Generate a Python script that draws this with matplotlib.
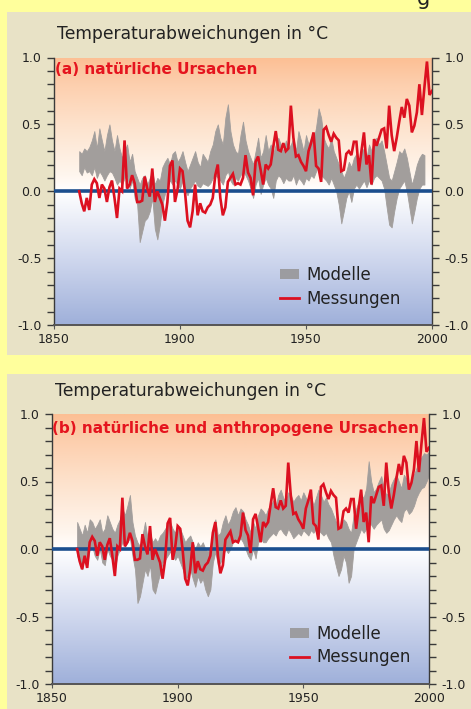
import numpy as np
import matplotlib
matplotlib.use("Agg")
import matplotlib.pyplot as plt
from matplotlib.colors import LinearSegmentedColormap
from matplotlib.patches import Rectangle, Patch
from matplotlib.lines import Line2D
from matplotlib.ticker import MultipleLocator, FixedLocator, FixedFormatter

years = list(range(1860, 2001))

# Messungen (observations), deg C anomaly
messungen = [
    0.00, -0.09, -0.15, -0.05, -0.14, 0.05, 0.09, 0.06, -0.05, 0.05,   # 1860-69
    0.02, -0.08, 0.03, 0.08, -0.05, -0.20, 0.02, 0.00, 0.38, 0.02,     # 1870-79
    0.05, 0.12, 0.06, -0.08, -0.08, -0.07, 0.11, 0.02, -0.04, 0.17,    # 1880-89
    -0.08, 0.00, -0.05, -0.10, -0.22, -0.08, 0.19, 0.23, -0.08, 0.01,  # 1890-99
    0.17, 0.15, -0.01, -0.22, -0.27, -0.15, 0.05, -0.18, -0.09, -0.15, # 1900-09
    -0.16, -0.12, -0.10, -0.05, 0.12, 0.20, -0.05, -0.18, -0.12, 0.07, # 1910-19
    0.10, 0.13, 0.05, 0.06, 0.05, 0.10, 0.27, 0.14, 0.10, -0.03,       # 1920-29
    0.22, 0.26, 0.16, 0.05, 0.20, 0.17, 0.20, 0.33, 0.45, 0.31,        # 1930-39
    0.30, 0.36, 0.30, 0.32, 0.64, 0.40, 0.26, 0.27, 0.22, 0.19,        # 1940-49
    0.15, 0.30, 0.36, 0.44, 0.19, 0.17, 0.07, 0.46, 0.48, 0.42,        # 1950-59
    0.37, 0.43, 0.40, 0.38, 0.15, 0.16, 0.28, 0.30, 0.27, 0.37,        # 1960-69
    0.37, 0.15, 0.30, 0.44, 0.20, 0.27, 0.05, 0.39, 0.34, 0.40,        # 1970-79
    0.46, 0.47, 0.32, 0.64, 0.42, 0.30, 0.40, 0.52, 0.63, 0.55,        # 1980-89
    0.69, 0.64, 0.44, 0.49, 0.59, 0.80, 0.57, 0.78, 0.97, 0.72,        # 1990-99
    0.75,                                                              # 2000
]

# Modelle, panel (a): natural forcing only (upper / lower envelope)
modelle_a_oben = [
    0.30, 0.28, 0.32, 0.30, 0.33, 0.38, 0.45, 0.32, 0.47, 0.38,
    0.30, 0.42, 0.50, 0.38, 0.30, 0.42, 0.32, 0.25, 0.30, 0.35,
    0.22, 0.28, 0.15, 0.10, 0.05, 0.10, 0.12, 0.05, 0.10, 0.15,
    0.05, 0.10, 0.08, 0.18, 0.22, 0.25, 0.20, 0.28, 0.30, 0.22,
    0.25, 0.30, 0.22, 0.15, 0.20, 0.25, 0.30, 0.22, 0.18, 0.28,
    0.25, 0.22, 0.30, 0.35, 0.45, 0.50, 0.40, 0.35, 0.55, 0.65,
    0.45, 0.35, 0.30, 0.28, 0.42, 0.52, 0.38, 0.30, 0.25, 0.20,
    0.30, 0.40, 0.25, 0.30, 0.42, 0.30, 0.35, 0.28, 0.35, 0.40,
    0.35, 0.30, 0.38, 0.32, 0.35, 0.40, 0.30, 0.45, 0.38, 0.30,
    0.42, 0.35, 0.40, 0.38, 0.48, 0.62, 0.55, 0.40, 0.35, 0.32,
    0.40, 0.30, 0.25, 0.20, 0.15, 0.10, 0.15, 0.22, 0.18, 0.25,
    0.28, 0.22, 0.30, 0.32, 0.25, 0.35, 0.30, 0.38, 0.40, 0.35,
    0.38, 0.30, 0.20, 0.10, 0.08, 0.15, 0.22, 0.30, 0.28, 0.32,
    0.25, 0.15, 0.05, 0.12, 0.20, 0.25, 0.28, 0.27, None, None,
    None,
]
modelle_a_unten = [
    0.15, 0.12, 0.18, 0.14, 0.15, 0.12, 0.18, 0.10, 0.15, 0.12,
    0.08, 0.12, 0.15, 0.14, 0.10, 0.05, 0.08, 0.05, 0.10, 0.12,
    0.02, 0.08, -0.05, -0.10, -0.38, -0.30, -0.22, -0.20, -0.15, -0.05,
    -0.28, -0.36, -0.25, -0.10, -0.02, 0.05, 0.08, 0.05, 0.08, 0.05,
    0.02, 0.08, 0.00, -0.03, 0.02, 0.05, 0.08, 0.04, 0.03, 0.06,
    0.05, 0.04, 0.06, 0.10, 0.12, 0.10, 0.08, 0.05, 0.12, 0.15,
    0.08, 0.05, 0.10, 0.08, 0.12, 0.15, 0.12, 0.08, 0.02, -0.05,
    0.05, 0.10, -0.02, 0.05, 0.10, 0.05, 0.02, -0.05, 0.08, 0.12,
    0.10, 0.06, 0.10, 0.08, 0.08, 0.12, 0.05, 0.10, 0.08, 0.05,
    0.10, 0.08, 0.12, 0.10, 0.15, 0.20, 0.12, 0.10, 0.08, 0.05,
    0.10, 0.05, 0.00, -0.10, -0.24, -0.15, -0.05, 0.00, -0.08, 0.02,
    0.05, 0.02, 0.05, 0.08, 0.03, 0.08, 0.05, 0.10, 0.12, 0.10,
    0.08, 0.02, -0.12, -0.25, -0.27, -0.15, -0.05, 0.02, 0.05, 0.08,
    0.00, -0.12, -0.24, -0.15, -0.05, 0.02, 0.05, 0.05, None, None,
    None,
]

# Modelle, panel (b): natural + anthropogenic forcing
modelle_b_oben = [
    0.20, 0.15, 0.10, 0.18, 0.12, 0.22, 0.20, 0.15, 0.18, 0.22,
    0.12, 0.15, 0.25, 0.20, 0.15, 0.12, 0.18, 0.22, 0.30, 0.25,
    0.32, 0.40, 0.20, 0.10, 0.05, 0.02, 0.10, 0.20, 0.08, 0.12,
    0.05, 0.08, 0.05, 0.10, 0.12, 0.15, 0.18, 0.20, 0.15, 0.12,
    0.18, 0.15, 0.10, 0.05, 0.08, 0.10, 0.05, 0.00, 0.05, 0.02,
    0.05, 0.00, -0.02, 0.02, 0.15, 0.22, 0.10, 0.12, 0.20, 0.25,
    0.18, 0.22, 0.28, 0.31, 0.25, 0.30, 0.28, 0.22, 0.18, 0.12,
    0.20, 0.15, 0.25, 0.30, 0.28, 0.25, 0.30, 0.32, 0.36, 0.32,
    0.40, 0.44, 0.38, 0.35, 0.42, 0.40, 0.35, 0.38, 0.40, 0.36,
    0.42, 0.38, 0.35, 0.40, 0.32, 0.38, 0.44, 0.40, 0.35, 0.38,
    0.33, 0.30, 0.25, 0.20, 0.15, 0.18, 0.22, 0.20, 0.15, 0.12,
    0.25, 0.30, 0.35, 0.40, 0.38, 0.45, 0.65, 0.50, 0.42, 0.45,
    0.50, 0.54, 0.45, 0.40, 0.42, 0.48, 0.52, 0.55, 0.50, 0.45,
    0.55, 0.52, 0.45, 0.48, 0.55, 0.60, 0.65, 0.68, 0.71, 0.70,
    0.72,
]
modelle_b_unten = [
    -0.05, -0.10, -0.15, -0.05, -0.12, 0.00, 0.02, -0.05, -0.08, 0.00,
    -0.10, -0.12, 0.00, -0.05, -0.08, -0.15, -0.05, 0.00, 0.05, 0.02,
    0.05, 0.08, -0.05, -0.15, -0.40, -0.35, -0.25, -0.15, -0.20, -0.12,
    -0.30, -0.33, -0.25, -0.18, -0.10, -0.08, -0.05, -0.02, -0.05, -0.08,
    -0.05, -0.10, -0.15, -0.22, -0.20, -0.15, -0.22, -0.28, -0.20, -0.25,
    -0.22, -0.30, -0.35, -0.30, -0.10, -0.02, -0.12, -0.10, -0.05, 0.00,
    -0.03, 0.00, 0.05, 0.08, 0.05, 0.08, 0.05, 0.00, -0.05, -0.08,
    0.00, -0.07, 0.05, 0.08, 0.05, 0.05, 0.08, 0.10, 0.12, 0.10,
    0.14, 0.15, 0.12, 0.10, 0.15, 0.12, 0.08, 0.10, 0.12, 0.10,
    0.14, 0.12, 0.10, 0.14, 0.12, 0.15, 0.14, 0.12, 0.10, 0.12,
    0.08, 0.05, -0.05, -0.13, -0.20, -0.15, -0.05, -0.10, -0.25, -0.20,
    0.00, 0.05, 0.10, 0.15, 0.12, 0.15, 0.20, 0.18, 0.15, 0.18,
    0.20, 0.22, 0.15, 0.12, 0.14, 0.18, 0.22, 0.25, 0.22, 0.20,
    0.28, 0.30, 0.26, 0.28, 0.32, 0.38, 0.42, 0.45, 0.46, 0.50,
    0.55,
]

y_ticks = [-1.0, -0.5, 0.0, 0.5, 1.0]
y_ticklabels = ["-1.0", "-0.5", "0.0", "0.5", "1.0"]
x_ticks = [1850, 1900, 1950, 2000]
x_ticklabels = ["1850", "1900", "1950", "2000"]

titel = "Temperaturabweichungen in °C"
label_a = "(a) natürliche Ursachen"
label_b = "(b) natürliche und anthropogene Ursachen"
legend_labels = ["Modelle", "Messungen"]

# ---------------------------------------------------------------
W, H = 471, 709
YELLOW = "#FFFF9C"
BEIGE = "#E8E2C6"
GRAY = "#A29E9C"
RED = "#DC1020"
BLUE = "#1B4E8E"
TEXT = "#222222"

def fx(px):
    return px / W

def fy(py):
    return 1 - py / H

def arr(v):
    return np.array([np.nan if a is None else a for a in v], dtype=float)

grad_cmap = LinearSegmentedColormap.from_list(
    "bg",
    [(0.00, "#9FB0DA"), (0.25, "#D0D8EE"), (0.40, "#ECEFF8"), (0.50, "#FFFFFF"),
     (0.56, "#FFF6EE"), (0.75, "#FDE2CC"), (0.90, "#FDCFAE"), (1.00, "#FCBF94")])

fig = plt.figure(figsize=(W / 100, H / 100), dpi=100, facecolor=YELLOW)

# beige panel boxes
fig.add_artist(Rectangle((fx(7), fy(355)), fx(470), 343 / H, transform=fig.transFigure,
                         facecolor=BEIGE, edgecolor="none", zorder=0))
fig.add_artist(Rectangle((fx(7), fy(712)), fx(470), 338 / H, transform=fig.transFigure,
                         facecolor=BEIGE, edgecolor="none", zorder=0))

# clipped letter from a cut-off heading above
fig.text(fx(417), fy(5), "g", fontsize=15, color=TEXT, va="baseline", ha="left")

panels = [
    dict(px=(54, 432), py=(57.5, 325), lab=label_a, oben=modelle_a_oben, unten=modelle_a_unten,
         title_xy=(57, 39), lab_xy=(55, 74), leg_xy=(280, 266)),
    dict(px=(52, 429), py=(414, 684), lab=label_b, oben=modelle_b_oben, unten=modelle_b_unten,
         title_xy=(55, 396), lab_xy=(52, 433), leg_xy=(290, 625)),
]

yrs = np.array(years)
mess = arr(messungen)

for p in panels:
    x0, x1 = p["px"]
    ytop, ybot = p["py"]
    ax = fig.add_axes([fx(x0), fy(ybot), (x1 - x0) / W, (ybot - ytop) / H])
    ax.set_xlim(1850, 2000)
    ax.set_ylim(-1, 1)
    ax.patch.set_alpha(0)

    grad = np.linspace(0, 1, 256).reshape(-1, 1)
    ax.imshow(grad, extent=[1850, 2000, -1, 1], origin="lower", aspect="auto",
              cmap=grad_cmap, zorder=0, interpolation="bilinear")

    ax.fill_between(yrs, arr(p["unten"]), arr(p["oben"]), color=GRAY, lw=0.6,
                    edgecolor=GRAY, zorder=2)
    ax.axhline(0, color=BLUE, lw=2.6, zorder=3)
    ax.plot(yrs, mess, color=RED, lw=1.9, zorder=4, solid_joinstyle="miter")

    for s in ["top"]:
        ax.spines[s].set_visible(False)
    for s in ["left", "right"]:
        ax.spines[s].set_color("#3A3A3A")
        ax.spines[s].set_linewidth(1.0)
    ax.spines["bottom"].set_color("#555555")
    ax.spines["bottom"].set_linewidth(1.4)

    ax.yaxis.set_major_locator(FixedLocator(y_ticks))
    ax.yaxis.set_major_formatter(FixedFormatter(y_ticklabels))
    ax.yaxis.set_minor_locator(MultipleLocator(0.1))
    ax.xaxis.set_major_locator(FixedLocator(x_ticks))
    ax.xaxis.set_major_formatter(FixedFormatter(x_ticklabels))
    ax.tick_params(axis="y", which="both", left=True, right=True, labelleft=True,
                   labelright=True, direction="out", color="#3A3A3A", width=1.0)
    ax.tick_params(axis="y", which="major", length=5, pad=4, labelsize=9, labelcolor=TEXT)
    ax.tick_params(axis="y", which="minor", length=5)
    ax.tick_params(axis="x", which="major", direction="out", length=3, pad=3,
                   labelsize=9, labelcolor=TEXT, color="#555555")

    tx, ty = p["title_xy"]
    fig.text(fx(tx), fy(ty), titel, fontsize=12.3, color=TEXT, va="baseline", ha="left")
    lx, ly = p["lab_xy"]
    fig.text(fx(lx), fy(ly), p["lab"], fontsize=11, fontweight="bold", color="#E5141E",
             va="baseline", ha="left", zorder=10)

    handles = [Patch(facecolor="#9C9CA0", edgecolor="none"),
               Line2D([], [], color=RED, lw=2)]
    gx, gy = p["leg_xy"]
    ax.legend(handles, legend_labels, loc="upper left", bbox_to_anchor=(fx(gx), fy(gy)),
              bbox_transform=fig.transFigure, frameon=False, fontsize=12,
              handlelength=1.15, handleheight=0.6, handletextpad=0.42,
              labelspacing=0.33, borderaxespad=0, borderpad=0, labelcolor=TEXT)

fig.savefig("out.png", dpi=100, facecolor=YELLOW)
